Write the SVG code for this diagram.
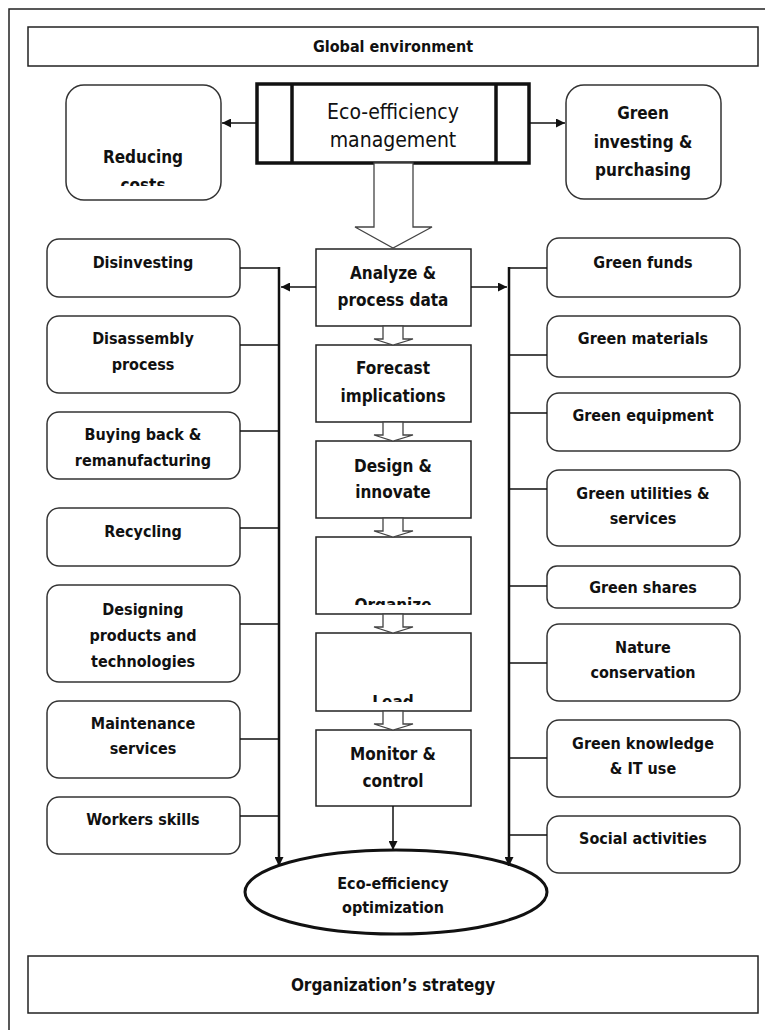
<svg xmlns="http://www.w3.org/2000/svg" width="765" height="1030" viewBox="0 0 765 1030">
<style>
text{font-family:"DejaVu Sans Condensed","DejaVu Sans","Liberation Sans",sans-serif;fill:#111;text-anchor:middle;font-weight:bold}
.s{font-size:16px}
.m{font-size:17px}
.h{font-size:21px;font-weight:normal}
.box{fill:#fff;stroke:#333;stroke-width:1.5}
.sq{fill:#fff;stroke:#222;stroke-width:1.5}
.ln{fill:none;stroke:#111;stroke-width:1.5}
.bus{fill:none;stroke:#111;stroke-width:2.5}
.blk{fill:#fff;stroke:#444;stroke-width:1.3}
</style>
<defs>
<marker id="ah" viewBox="0 0 10 10" refX="10" refY="5" markerWidth="9" markerHeight="9" markerUnits="userSpaceOnUse" orient="auto"><path d="M0,0 L10,5 L0,10 z" fill="#111"/></marker>
<clipPath id="cCosts"><rect x="66" y="150" width="155" height="36"/></clipPath>
<clipPath id="cOrg"><rect x="316" y="537" width="155" height="68"/></clipPath>
<clipPath id="cLead"><rect x="316" y="633" width="155" height="69"/></clipPath>
</defs>
<rect x="9" y="9" width="800" height="1100" fill="#fff" stroke="#222" stroke-width="1.5"/>

<g id="global-environment"><rect x="28" y="27" width="730" height="39" class="sq"/><text x="393" y="52" class="s">Global environment</text></g>
<g id="org-strategy"><rect x="28" y="956" width="730" height="57" class="sq"/><text x="393" y="991" class="m">Organization’s strategy</text></g>

<g id="eco-management"><rect x="257" y="84" width="272" height="79" fill="#fff" stroke="#111" stroke-width="3.5"/><line x1="292" y1="84" x2="292" y2="163" stroke="#111" stroke-width="3.5"/><line x1="496" y1="84" x2="496" y2="163" stroke="#111" stroke-width="3.5"/><text x="393" y="119" class="h">Eco-efficiency</text><text x="393" y="147" class="h">management</text></g>
<g id="reducing-costs"><rect x="66" y="85" width="155" height="115" rx="18" class="box"/><text x="143" y="163" class="m">Reducing</text><text x="143" y="191" class="m" clip-path="url(#cCosts)">costs</text></g>
<g id="green-investing"><rect x="566" y="85" width="155" height="114" rx="18" class="box"/><text x="643" y="119" class="m">Green</text><text x="643" y="148" class="m">investing &amp;</text><text x="643" y="176" class="m">purchasing</text></g>

<g id="analyze"><rect x="316" y="249" width="155" height="77" class="sq"/><text x="393" y="279" class="m">Analyze &amp;</text><text x="393" y="306" class="m">process data</text></g>
<g id="forecast"><rect x="316" y="345" width="155" height="77" class="sq"/><text x="393" y="374" class="m">Forecast</text><text x="393" y="402" class="m">implications</text></g>
<g id="design"><rect x="316" y="441" width="155" height="77" class="sq"/><text x="393" y="472" class="m">Design &amp;</text><text x="393" y="498" class="m">innovate</text></g>
<g id="organize"><rect x="316" y="537" width="155" height="77" class="sq"/><text x="393" y="611" class="m" clip-path="url(#cOrg)">Organize</text></g>
<g id="lead"><rect x="316" y="633" width="155" height="78" class="sq"/><text x="393" y="708" class="m" clip-path="url(#cLead)">Lead</text></g>
<g id="monitor"><rect x="316" y="730" width="155" height="76" class="sq"/><text x="393" y="760" class="m">Monitor &amp;</text><text x="393" y="787" class="m">control</text></g>
<g id="optimization"><ellipse cx="396" cy="892" rx="151" ry="42" fill="#fff" stroke="#111" stroke-width="3"/><text x="393" y="889" class="s">Eco-efficiency</text><text x="393" y="913" class="s">optimization</text></g>

<g id="disinvesting"><rect x="47" y="239" width="193" height="58" rx="12" class="box"/><text x="143" y="268" class="s">Disinvesting</text></g>
<g id="disassembly"><rect x="47" y="316" width="193" height="77" rx="12" class="box"/><text x="143" y="344" class="s">Disassembly</text><text x="143" y="370" class="s">process</text></g>
<g id="buying-back"><rect x="47" y="412" width="193" height="67" rx="12" class="box"/><text x="143" y="440" class="s">Buying back &amp;</text><text x="143" y="466" class="s">remanufacturing</text></g>
<g id="recycling"><rect x="47" y="508" width="193" height="58" rx="12" class="box"/><text x="143" y="537" class="s">Recycling</text></g>
<g id="designing"><rect x="47" y="585" width="193" height="97" rx="12" class="box"/><text x="143" y="615" class="s">Designing</text><text x="143" y="641" class="s">products  and</text><text x="143" y="667" class="s">technologies</text></g>
<g id="maintenance"><rect x="47" y="701" width="193" height="77" rx="12" class="box"/><text x="143" y="729" class="s">Maintenance</text><text x="143" y="754" class="s">services</text></g>
<g id="workers-skills"><rect x="47" y="797" width="193" height="57" rx="12" class="box"/><text x="143" y="825" class="s">Workers skills</text></g>

<g id="green-funds"><rect x="547" y="238" width="193" height="59" rx="12" class="box"/><text x="643" y="268" class="s">Green funds</text></g>
<g id="green-materials"><rect x="547" y="316" width="193" height="61" rx="12" class="box"/><text x="643" y="344" class="s">Green materials</text></g>
<g id="green-equipment"><rect x="547" y="393" width="193" height="58" rx="12" class="box"/><text x="643" y="421" class="s">Green equipment</text></g>
<g id="green-utilities"><rect x="547" y="470" width="193" height="76" rx="12" class="box"/><text x="643" y="499" class="s">Green utilities &amp;</text><text x="643" y="524" class="s">services</text></g>
<g id="green-shares"><rect x="547" y="566" width="193" height="42" rx="10" class="box"/><text x="643" y="593" class="s">Green shares</text></g>
<g id="nature"><rect x="547" y="624" width="193" height="77" rx="12" class="box"/><text x="643" y="653" class="s">Nature</text><text x="643" y="678" class="s">conservation</text></g>
<g id="green-knowledge"><rect x="547" y="720" width="193" height="77" rx="12" class="box"/><text x="643" y="749" class="s">Green knowledge</text><text x="643" y="774" class="s">&amp; IT use</text></g>
<g id="social"><rect x="547" y="816" width="193" height="57" rx="12" class="box"/><text x="643" y="844" class="s">Social activities</text></g>

<g id="connectors">
<polygon class="blk" points="374,163 413,163 413,227 432,227 393,248 355,227 374,227"/>
<polygon class="blk" points="383,326 403,326 403,339 413,339 393,345 374,339 383,339"/>
<polygon class="blk" points="383,422 403,422 403,435 413,435 393,441 374,435 383,435"/>
<polygon class="blk" points="383,518 403,518 403,531 413,531 393,537 374,531 383,531"/>
<polygon class="blk" points="383,614 403,614 403,627 413,627 393,633 374,627 383,627"/>
<polygon class="blk" points="383,711 403,711 403,724 413,724 393,730 374,724 383,724"/>
<line class="ln" x1="257" y1="123" x2="222" y2="123" marker-end="url(#ah)"/>
<line class="ln" x1="529" y1="123" x2="565" y2="123" marker-end="url(#ah)"/>
<line class="ln" x1="316" y1="287" x2="281" y2="287" marker-end="url(#ah)"/>
<line class="ln" x1="471" y1="287" x2="507" y2="287" marker-end="url(#ah)"/>
<line class="ln" x1="393" y1="806" x2="393" y2="850" marker-end="url(#ah)"/>
<line class="bus" x1="279" y1="267" x2="279" y2="866" marker-end="url(#ah)"/>
<line class="bus" x1="509" y1="267" x2="509" y2="866" marker-end="url(#ah)"/>
<path class="ln" d="M240,268H279M240,345H279M240,431H279M240,528H279M240,624H279M240,739H279M240,816H279"/>
<path class="ln" d="M509,268H547M509,355H547M509,413H547M509,489H547M509,586H547M509,663H547M509,758H547M509,835H547"/>
</g>
</svg>
